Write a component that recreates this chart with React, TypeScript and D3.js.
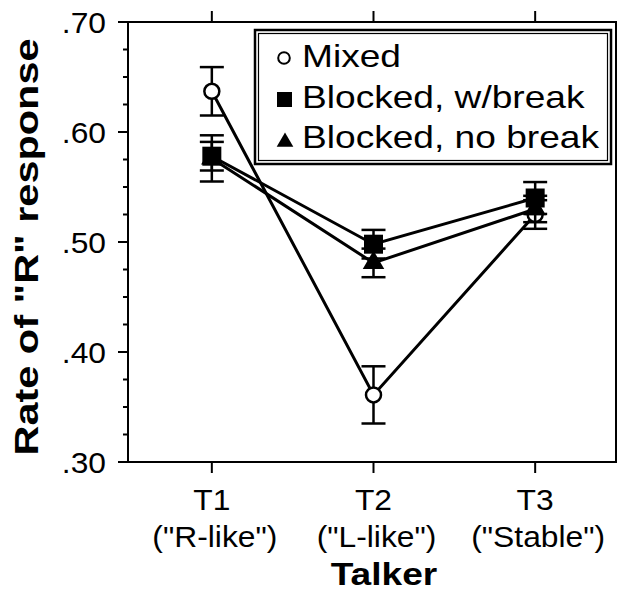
import React from "react";
import * as d3 from "d3";

// talker categories and their sub labels
const talkers = ["T1", "T2", "T3"];
const talkerNotes = ['("R-like")', '("L-like")', '("Stable")'];

// mean rate of "R" response and error bar half widths
const mixedMean = [0.637, 0.361, 0.525];
const mixedErr = [0.022, 0.026, 0.013];
const breakMean = [0.578, 0.498, 0.54];
const breakErr = [0.013, 0.013, 0.0145];
const noBreakMean = [0.576, 0.481, 0.53];
const noBreakErr = [0.021, 0.013, 0.012];

const yTickValues = [0.3, 0.4, 0.5, 0.6, 0.7];
const yTickLabels = [".30", ".40", ".50", ".60", ".70"];
const legendLabels = ["Mixed", "Blocked, w/break", "Blocked, no break"];

const W = 621;
const H = 590;
const left = 128, right = 616, top = 22, bottom = 462;
const SX = 1.06; // tick text is a bit wide in the original
const SXL = 1.16; // legend and title text
const font = '"Liberation Sans", Arial, Helvetica, sans-serif';

const x = d3.scalePoint<string>().domain(talkers).range([left + 3, right]).padding(0.5);
const y = d3.scaleLinear().domain([0.3, 0.7]).range([bottom, top]);

const line = d3.line<number>()
  .x((d, i) => x(talkers[i]) as number)
  .y(d => y(d));

const square = d3.symbol(d3.symbolSquare, 19 * 19)();
const triangle = d3.symbol(d3.symbolTriangle, 200)();
const legSquare = d3.symbol(d3.symbolSquare, 15 * 15)();
const legTriangle = d3.symbol(d3.symbolTriangle, 120)();

function ErrorBars({ means, errs }: { means: number[]; errs: number[] }) {
  return (
    <g stroke="#000" strokeWidth={2.5}>
      {means.map((m, i) => {
        const cx = x(talkers[i]) as number;
        const y1 = y(m + errs[i]);
        const y2 = y(m - errs[i]);
        return (
          <g key={i}>
            <line x1={cx} x2={cx} y1={y1} y2={y2} />
            <line x1={cx - 12} x2={cx + 12} y1={y1} y2={y1} />
            <line x1={cx - 12} x2={cx + 12} y1={y2} y2={y2} />
          </g>
        );
      })}
    </g>
  );
}

export default function App() {
  const minor = d3.range(0.3, 0.7001, 0.025);
  return (
    <svg width={W} height={H} style={{ position: "absolute", left: 0, top: 0, background: "#fff" }} fontFamily={font}>
      {/* frame */}
      <rect x={left} y={top} width={right - left} height={bottom - top} fill="none" stroke="#000" strokeWidth={2} />

      {/* ticks */}
      <g stroke="#000" strokeWidth={2}>
        {minor.map((v, i) => (
          <line key={i} x1={left - 5} x2={left} y1={y(v)} y2={y(v)} />
        ))}
        {yTickValues.map((v, i) => (
          <line key={"M" + i} x1={left - 10} x2={left} y1={y(v)} y2={y(v)} />
        ))}
        {talkers.map(t => (
          <g key={t}>
            <line x1={x(t)} x2={x(t)} y1={bottom} y2={bottom + 11} />
            <line x1={x(t)} x2={x(t)} y1={top} y2={top - 11} />
          </g>
        ))}
      </g>
      {yTickValues.map((v, i) => (
        <text key={i} transform={`translate(106,${y(v) + 10.5}) scale(${SX},1)`} textAnchor="end" fontSize={30}>
          {yTickLabels[i]}
        </text>
      ))}
      {talkers.map((t, i) => (
        <g key={t}>
          <text transform={`translate(${x(t)},510) scale(${SX},1)`} textAnchor="middle" fontSize={30}>{t}</text>
          <text transform={`translate(${x(t) as number + 3},547) scale(${SX},1)`} textAnchor="middle" fontSize={30}>{talkerNotes[i]}</text>
        </g>
      ))}

      {/* axis titles */}
      <text transform={`translate(384,585) scale(${SXL},1)`} textAnchor="middle" fontSize={32} fontWeight="bold">Talker</text>
      <text transform="translate(38,247) rotate(-90)" textAnchor="middle" fontSize={34} fontWeight="bold"
        textLength={417} lengthAdjust="spacingAndGlyphs">Rate of "R" response</text>

      {/* Mixed */}
      <path d={line(mixedMean) || ""} fill="none" stroke="#000" strokeWidth={3} />
      <ErrorBars means={mixedMean} errs={mixedErr} />
      {mixedMean.map((m, i) => (
        <circle key={i} cx={x(talkers[i])} cy={y(m)} r={7.5} fill="#fff" stroke="#000" strokeWidth={2.5} />
      ))}

      {/* Blocked, no break */}
      <path d={line(noBreakMean) || ""} fill="none" stroke="#000" strokeWidth={3} />
      <ErrorBars means={noBreakMean} errs={noBreakErr} />
      {noBreakMean.map((m, i) => (
        <path key={i} d={triangle || ""} transform={`translate(${x(talkers[i])},${y(m)})`} fill="#000" />
      ))}

      {/* Blocked, w/break */}
      <path d={line(breakMean) || ""} fill="none" stroke="#000" strokeWidth={3} />
      <ErrorBars means={breakMean} errs={breakErr} />
      {breakMean.map((m, i) => (
        <path key={i} d={square || ""} transform={`translate(${x(talkers[i])},${y(m)})`} fill="#000" />
      ))}

      {/* legend */}
      <g>
        <rect x={255} y={30} width={356} height={134} fill="#fff" stroke="#000" strokeWidth={2.5} />
        <rect x={258.5} y={33.5} width={349} height={127} fill="none" stroke="#000" strokeWidth={1.2} />
        <circle cx={284} cy={58} r={5.8} fill="#fff" stroke="#000" strokeWidth={2} />
        <path d={legSquare || ""} transform="translate(284.5,99.5)" fill="#000" />
        <path d={legTriangle || ""} transform="translate(285,142)" fill="#000" />
        {legendLabels.map((l, i) => (
          <text key={l} transform={`translate(302,${67 + i * 40.5}) scale(${SXL},1)`} fontSize={32}>{l}</text>
        ))}
      </g>
    </svg>
  );
}
